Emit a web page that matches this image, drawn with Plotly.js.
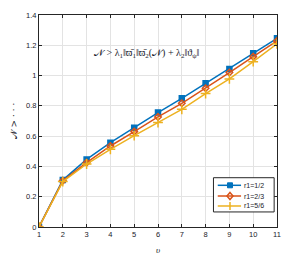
<!DOCTYPE html>
<html><head><meta charset="utf-8">
<script src="https://cdn.plot.ly/plotly-3.0.1.min.js"></script>
<style>html,body{margin:0;padding:0;background:#fff}#c{width:298px;height:256px}</style>
</head><body><div id="c"></div>
<script>
const xs = [1,2,3,4,5,6,7,8,9,10,11];
const blue = [0,0.31,0.446,0.557,0.656,0.756,0.85,0.949,1.044,1.147,1.246];
const red = [0,0.305,0.425,0.535,0.63,0.727,0.817,0.916,1.02,1.125,1.229];
const yellow = [0,0.30,0.416,0.513,0.603,0.69,0.777,0.881,0.978,1.092,1.21];
const names = ['r1=1/2','r1=2/3','r1=5/6'];
const colors = ['#0072BD','#D95319','#EDB120'];
const symbols = ['square','diamond','cross-thin'];
const series = [blue, red, yellow];
const traces = series.map((ys,i)=>({
  x: xs, y: ys, name: names[i], type:'scatter', mode:'lines+markers', showlegend:false,
  line:{color:colors[i], width:1.5},
  marker:{symbol:symbols[i], size: i==2?7:5, color: i==1?'rgba(0,0,0,0)':colors[i], line:{color:colors[i], width:1.5}}
}));
const ax = {showline:true, linecolor:'#262626', linewidth:1, mirror:'ticks', ticks:'inside', ticklen:3, tickcolor:'#262626',
  showgrid:true, gridcolor:'#e3e3e3', zeroline:false, tickfont:{family:'Liberation Sans, Arial', size:7.5, color:'#1a1a2a'}};

// custom legend (paper coords)
const lg = {x0:0.733, x1:0.988, y0:0.071, y1:0.2325, rows:[0.1967,0.1462,0.0991], lx0:0.751, lx1:0.849, mx:0.8025, tx:0.854};
const shapes = [{type:'rect', xref:'paper', yref:'paper', x0:lg.x0, x1:lg.x1, y0:lg.y0, y1:lg.y1,
  fillcolor:'#fff', line:{color:'#262626', width:1}}];
const annotations = [{xref:'paper', yref:'paper', x:0.455, y:0.86, showarrow:false,
    text:'𝒩 > λ<sub>1</sub>‖ϖ̄<sub>1</sub>‖ϖ̄<sub>2</sub>(𝒩) + λ<sub>2</sub>‖ϑ<sub>ψ</sub>‖',
    font:{family:'Liberation Serif, DejaVu Serif', size:10, color:'#1a1a2a'}}];
names.forEach((n,i)=>{
  const yy = lg.rows[i], c = colors[i];
  shapes.push({type:'line', xref:'paper', yref:'paper', x0:lg.lx0, x1:lg.lx1, y0:yy, y1:yy, line:{color:c, width:1.5}});
  if(i==0){
    shapes.push({type:'rect', xref:'paper', yref:'paper', xsizemode:'pixel', ysizemode:'pixel', xanchor:lg.mx, yanchor:yy,
      x0:-2.5, x1:2.5, y0:-2.5, y1:2.5, fillcolor:c, line:{color:c, width:1}});
  } else if(i==1){
    shapes.push({type:'path', xref:'paper', yref:'paper', xsizemode:'pixel', ysizemode:'pixel', xanchor:lg.mx, yanchor:yy,
      path:'M0,3.5 L3,0 L0,-3.5 L-3,0 Z', fillcolor:'rgba(0,0,0,0)', line:{color:c, width:1.5}});
  } else {
    shapes.push({type:'path', xref:'paper', yref:'paper', xsizemode:'pixel', ysizemode:'pixel', xanchor:lg.mx, yanchor:yy,
      path:'M0,4 L0,-4', line:{color:c, width:1.5}});
  }
  annotations.push({xref:'paper', yref:'paper', x:lg.tx, y:yy, xanchor:'left', yanchor:'middle', showarrow:false,
    text:n, font:{family:'Liberation Sans, Arial', size:7, color:'#1a1a2a'}});
});

const layout = {
  width:298, height:256, margin:{l:39, r:21, t:15, b:29},
  paper_bgcolor:'#fff', plot_bgcolor:'#fff',
  xaxis:Object.assign({}, ax, {range:[1,11], dtick:1, tick0:1,
    title:{text:'<i>υ</i>', font:{family:'Liberation Serif', size:9, color:'#1a1a2a'}, standoff:8}}),
  yaxis:Object.assign({}, ax, {range:[0,1.4], dtick:0.2, tickformat:'~g',
    title:{text:'𝒩 > · · ·', font:{family:'DejaVu Serif', size:9, color:'#1a1a2a'}, standoff:6}}),
  showlegend:false,
  shapes: shapes,
  annotations: annotations
};
Plotly.newPlot('c', traces, layout, {displayModeBar:false, staticPlot:true});
</script></body></html>
